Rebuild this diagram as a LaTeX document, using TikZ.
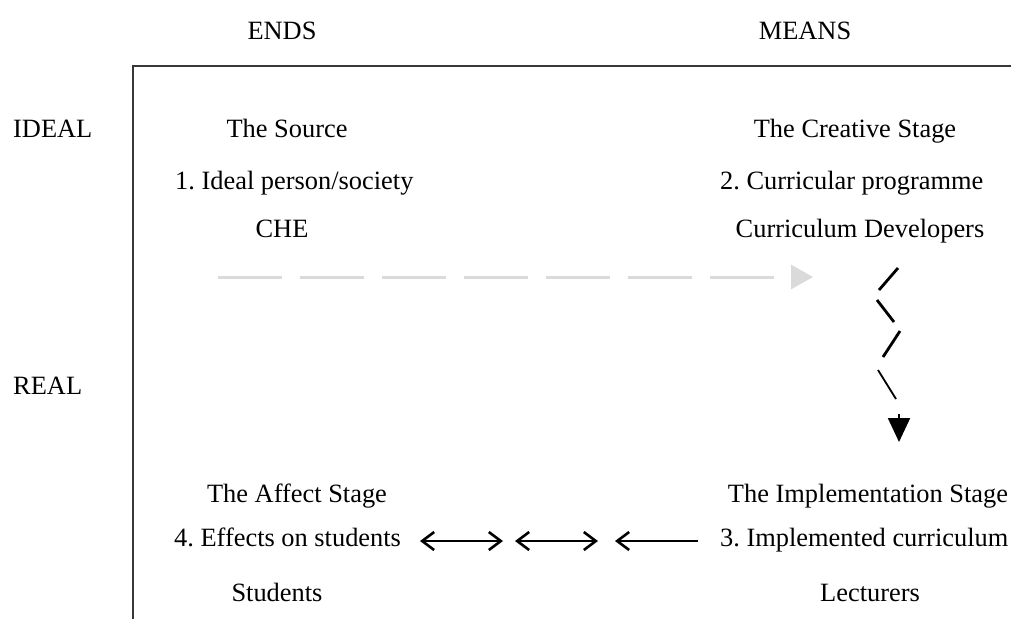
\documentclass[tikz,border=0pt]{standalone}
\usepackage{fontspec}
\setmainfont{Liberation Serif}
\usetikzlibrary{arrows.meta}
\definecolor{dashgray}{RGB}{218,218,218}
\definecolor{framegray}{RGB}{55,55,55}
\tikzset{rbarb/.tip={Straight Barb[length=12pt,width=18pt,line width=2.6pt]}}
\frenchspacing
\begin{document}
\begin{tikzpicture}[x=1pt,y=-1pt,
  lbl/.style={font=\fontsize{26.4}{30}\selectfont, inner sep=0pt, anchor=base},
  lblw/.style={lbl, anchor=base west},
  frameline/.style={draw=framegray, line width=1.5pt},
  idealarrow/.style={draw=dashgray, line width=3pt, dash pattern=on 64pt off 18pt,
    -{Triangle[length=22pt,width=24pt,fill=dashgray,sep=0pt]}},
  zig/.style={draw=black, line width=2.8pt},
  zigthin/.style={draw=black, line width=1.8pt},
  downtip/.style={draw=black, line width=2pt, -{Triangle[length=24pt,width=22pt]}},
  realarrow/.style={draw=black, line width=2.6pt}
]
\useasboundingbox (0,0) rectangle (1011,619);
% frame
\draw[frameline] (133,619) -- (133,66) -- (1011,66);
% headings
\node[lbl] (ends) at (282,39) {ENDS};
\node[lbl] (means) at (805,39) {MEANS};
\node[lblw] (ideal) at (13,137) {IDEAL};
\node[lblw] (real) at (13,394) {REAL};
% ideal / ends
\node[lbl] (source) at (287,137) {The Source};
\node[lblw] (n1) at (175,189) {1. Ideal person/society};
\node[lbl] (che) at (282,237) {CHE};
% ideal / means
\node[lbl] (creative) at (855,137) {The Creative Stage};
\node[lblw] (n2) at (720,189) {2. Curricular programme};
\node[lbl] (devs) at (860,237) {Curriculum Developers};
% real / ends
\node[lbl] (affect) at (297,502) {The Affect Stage};
\node[lblw] (n4) at (174,546) {4. Effects on students};
\node[lbl] (students) at (277,601) {Students};
% real / means
\node[lbl] (impl) at (868,502) {The Implementation Stage};
\node[lblw] (n3) at (720,546) {3. Implemented curriculum};
\node[lbl] (lect) at (870,601) {Lecturers};
% dashed ideal arrow
\coordinate (dA) at (218,277);
\coordinate (dB) at (813,277);
\draw[idealarrow] (dA) -- (dB);
% zigzag from creative to implementation
\coordinate (z1a) at (898,268); \coordinate (z1b) at (879,290);
\coordinate (z2a) at (877,300); \coordinate (z2b) at (894,322);
\coordinate (z3a) at (900,331); \coordinate (z3b) at (883,357);
\coordinate (z4a) at (878,370); \coordinate (z4b) at (896,399);
\coordinate (tA) at (899,414); \coordinate (tB) at (899,442);
\draw[zig] (z1a) -- (z1b);
\draw[zig] (z2a) -- (z2b);
\draw[zig] (z3a) -- (z3b);
\draw[zigthin] (z4a) -- (z4b);
\draw[downtip] (tA) -- (tB);
% real arrows
\coordinate (a1) at (420,541); \coordinate (b1) at (503,541);
\coordinate (a2) at (515,541); \coordinate (b2) at (598,541);
\coordinate (a3) at (698,541); \coordinate (b3) at (615,541);
\draw[realarrow, rbarb-rbarb] (a1) -- (b1);
\draw[realarrow, rbarb-rbarb] (a2) -- (b2);
\draw[realarrow, -rbarb] (a3) -- (b3);
\end{tikzpicture}
\end{document}
